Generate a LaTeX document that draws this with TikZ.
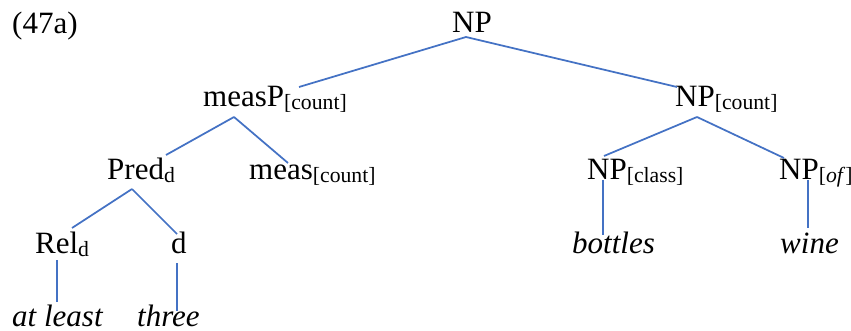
\documentclass[tikz,border=0pt]{standalone}
\usepackage{fontspec}
\setmainfont{Liberation Serif}
\usepackage{tikz}
\definecolor{bb}{RGB}{68, 114, 196}
\newcommand{\lowtag}[1]{\raisebox{-3pt}{\fontsize{21.7pt}{22pt}\selectfont #1}}

\begin{document}
\begin{tikzpicture}[every node/.style={inner sep=0pt, anchor=base west, font=\fontsize{31pt}{37pt}\selectfont}]
\useasboundingbox (0pt, 0pt) rectangle (851pt, -331pt);
\node (0) at (12pt, -34pt) {(47a)};
\node (1) at (452pt, -33pt) {NP};
\node (2) at (203pt, -107pt) {measP\lowtag{[count]}};
\node (3) at (675pt, -107pt) {NP\lowtag{[count]}};
\node (4) at (107pt, -180pt) {Pred\lowtag{d}};
\node (5) at (249pt, -180pt) {meas\lowtag{[count]}};
\node (6) at (587pt, -180pt) {NP\lowtag{[class]}};
\node (7) at (779pt, -180pt) {NP\lowtag{[\textit{of}]}};
\node (8) at (35pt, -253pt) {Rel\lowtag{d}};
\node (9) at (171pt, -253pt) {d};
\node (10) at (572pt, -253pt) {\textit{bottles}};
\node (11) at (780pt, -253pt) {\textit{wine}};
\node (12) at (12pt, -326pt) {\textit{at least}};
\node (13) at (137pt, -326pt) {\textit{three}};
\draw [line width=1.75pt, color=bb] ([shift={(14pt,-4pt)}]1.base west) to ([shift={(96pt,20pt)}]2.base west);
\draw [line width=1.75pt, color=bb] ([shift={(14pt,-4pt)}]1.base west) to ([shift={(2pt,20pt)}]3.base west);
\draw [line width=1.75pt, color=bb] ([shift={(31pt,-10pt)}]2.base west) to ([shift={(59pt,25pt)}]4.base west);
\draw [line width=1.75pt, color=bb] ([shift={(31pt,-10pt)}]2.base west) to ([shift={(39pt,17pt)}]5.base west);
\draw [line width=1.75pt, color=bb] ([shift={(22pt,-10pt)}]3.base west) to ([shift={(17pt,24pt)}]6.base west);
\draw [line width=1.75pt, color=bb] ([shift={(22pt,-10pt)}]3.base west) to ([shift={(5pt,22pt)}]7.base west);
\draw [line width=1.75pt, color=bb] ([shift={(25pt,-9pt)}]4.base west) to ([shift={(37pt,25pt)}]8.base west);
\draw [line width=1.75pt, color=bb] ([shift={(25pt,-9pt)}]4.base west) to ([shift={(6pt,19pt)}]9.base west);
\draw [line width=1.75pt, color=bb] ([shift={(16pt,0pt)}]6.base west) to ([shift={(31pt,18pt)}]10.base west);
\draw [line width=1.75pt, color=bb] ([shift={(29pt,0pt)}]7.base west) to ([shift={(28pt,25pt)}]11.base west);
\draw [line width=1.75pt, color=bb] ([shift={(22pt,-7pt)}]8.base west) to ([shift={(45pt,24pt)}]12.base west);
\draw [line width=1.75pt, color=bb] ([shift={(6pt,-10pt)}]9.base west) to ([shift={(40pt,15pt)}]13.base west);
\end{tikzpicture}
\end{document}
